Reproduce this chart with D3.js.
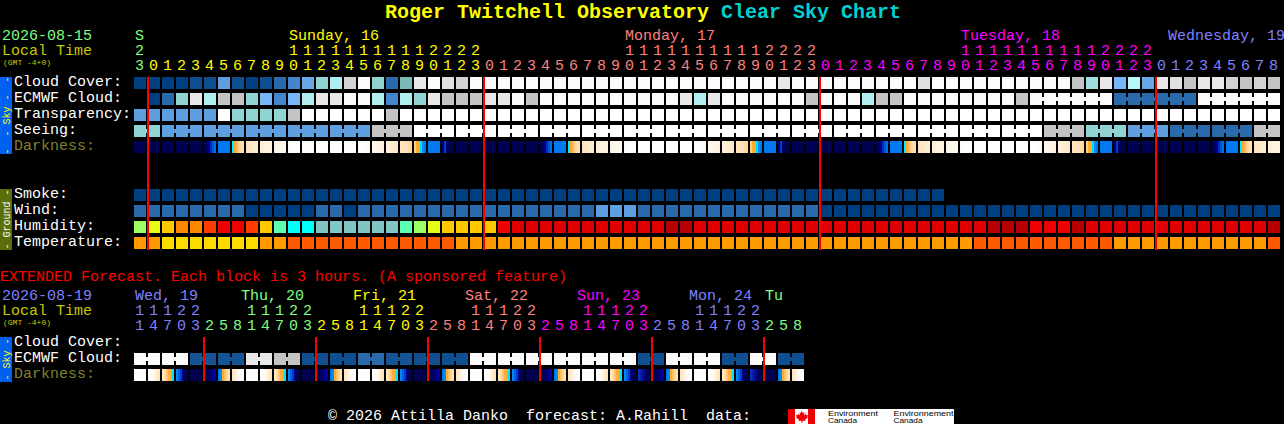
<!DOCTYPE html>
<html><head><meta charset="utf-8">
<style>
html,body{margin:0;padding:0;background:#000;overflow:hidden}
svg{display:block}
text{font-family:"Liberation Mono",monospace;font-size:15px;white-space:pre}
</style>
<script src="https://cdn.jsdelivr.net/npm/d3@7"></script>
</head><body><svg id="c" width="1284" height="424"></svg>
<script>
// ---------- data: one code per hourly / 3-hourly block ----------
const parse = s => s.replace(/ /g,"").split("");
const cloudCover   = parse("aaaabbebab cdpghokgct jklokkkkkk kkkkkkkkkk kkkkkkjkkk kkkkkklkkk kkkkkkkimj fypjlijjoioi");
const ecmwfCloud   = parse("-acgjhiigf dfhjjkkhdh gjiiijjkik kkkkkkkkkj hjkkkkkkik kkhiikkkkk kkkikkkkkk cccccckkkkkk");
const transparency = parse("eeeeeewggg giwwwwwwiw wwwwwwwwww wwwwwwwwww wwwwwwwwww wwwwwwwwww wwwwwwwwww wwwwwwwwwwww");
const seeing       = parse("ggeeeeeeee eeeeeeeiii wwwwwwwwww wwwwwwwwww wwwwwwwwww wwwwwwwwww wwwwwiiigg geeeccccccii");
const darkness     = parse("NNNNNabc12 34wwww5678 dbeNNNNNNa bc1234wwww 5678dbeNNN NNNabc1234 wwww5678db eNNNNNNabc12");
const smoke        = parse("aaaaaaaaaa aaaaaaaaaa aaaaaaaaaa aaaaaaaaaa aaaaaaaaaa aaaaaaaa");
const wind         = parse("ccccccccaa aaaccacccc cccccccccc ccceeecccc ccccccccca aaaaaaaaaa aaaaaaaaaa aaaaaaaaaaaa");
const humidity     = parse("ABCDDEFFEC IJJKKKKKKI ABCCCCFGGG GGGGGGGGHH GGGGGGGGGG GGGGGGGGGG GHHHFFFHGG GGGGGGGGGGGH");
const temperature  = parse("PPQQQQQQQP PRRRRRRRRR RRRPPPPPPP PPPPPPPPPP PPPPPPPPPP PPPPPPPPPP RRRRRRRRRR PPPPPPPPPPPR");
const hours = [23,0,1,2,3,4,5,6,7,8,9,10,11,12,13,14,15,16,17,18,19,20,21,22,23,
  0,1,2,3,4,5,6,7,8,9,10,11,12,13,14,15,16,17,18,19,20,21,22,23,
  0,1,2,3,4,5,6,7,8,9,10,11,12,13,14,15,16,17,18,19,20,21,22,23,
  0,1,2,3,4,5,6,7,8];
const dayOfHour = i => i<1?0 : i<25?1 : i<49?2 : i<73?3 : 4;
const dayLabels = [["S",0],["Sunday, 16",11],["Monday, 17",35],["Tuesday, 18",59],["Wednesday, 19",73.786]];
const midnights = [1,25,49,73];

const extEcmwf    = parse("kkkkssss jjiibbbb ccssbbbb kkkkkkkk kkkkbbkk kkbbkkbb");
const extDarkness = parse("wXYZNVUT wXYZNVUT wXYZNVUT wXYZNVUT wXYZSVUT wXYZSNUT");
const extHours = [11,14,17,20,23, 2,5,8,11,14,17,20,23, 2,5,8,11,14,17,20,23, 2,5,8,11,14,17,20,23,
  2,5,8,11,14,17,20,23, 2,5,8,11,14,17,20,23, 2,5,8];
const extDayOf = i => i<5?4 : i<13?0 : i<21?1 : i<29?2 : i<37?3 : i<45?4 : 0;
const extDayLabels = [["Wed, 19",0,4],["Thu, 20",7.57,0],["Fri, 21",15.57,1],["Sat, 22",23.57,2],["Sun, 23",31.57,3],["Mon, 24",39.57,4],["Tu",45,0]];
const extMidnights = [5,13,21,29,37,45];

// ---------- styles ----------
const palette = {a:"#003f7f",b:"#0f4f8f",s:"#155595",c:"#2a6aaa",d:"#4585cb",e:"#5f9fdf",p:"#68a8e8",f:"#77b7f7",
  t:"#7cbaba",g:"#8fd3d3",m:"#a0dede",h:"#aeeeee",y:"#b8f8f8",i:"#c4c4c4",o:"#d2d2d2",l:"#e0e0e0",j:"#e8e8e8",k:"#fbfbfb",w:"#ffffff",
  A:"#9cff66",B:"#e6ff14",C:"#ffc800",D:"#ff8800",E:"#ff3c00",F:"#ec0000",G:"#e00000",H:"#b80000",I:"#5cffb0",J:"#00ffff",K:"#80c4c4",
  P:"#ff9a00",Q:"#ffdc00",R:"#ff5a00"};
const keys = Object.keys(palette);
const colour = d3.scaleOrdinal(keys, keys.map(k=>palette[k]));
const strips = {
  N:["#000050"],w:["#ffffff"],
  a:["#000050","#000060","#000090","#0030b8","#0050d8","#0070e8"],
  b:["#0078f0"],
  c:["#00f0ff","#ffa830","#ffb858","#ffd090","#ffdca8","#ffe0b0"],
  1:["#ffe4bc","#ffe6c0","#ffe8c6","#ffeacc","#ffecd0","#ffeed4"],
  2:["#ffefd6","#fff0d8","#fff1dc","#fff2de","#fff3e0","#fff4e4"],
  3:["#fff5e6","#fff6e8","#fff7ec","#fff8ee","#fff9f0","#fffaf4"],
  4:["#fffbf6","#fffcf8","#fffdfa","#fffefc","#fffefe","#ffffff"],
  5:["#ffffff","#fffefc","#fffdfa","#fffcf8","#fffbf6","#fffaf4"],
  6:["#fff9f0","#fff8ee","#fff6ea","#fff5e6","#fff4e4","#fff2e0"],
  7:["#fff1dc","#fff0d8","#ffeed4","#ffecd0","#ffeacc","#ffe8c6"],
  8:["#ffe6c0","#ffe4bc","#ffe2b8","#ffdfb0","#ffdba8","#ffd8a0"],
  d:["#ffd080","#ffb030","#ffa820","#00e0ff","#0090ff","#0078f0"],
  e:["#000070","#0040c0","#000070","#000050","#000050","#000050"],
  X:["#ffffff","#ffffff","#fffaf2","#fff2e0","#ffeacc","#ffe4c0"],
  Y:["#ffecc8","#ffdca8","#ffc870","#ffb040","#ffa830","#00e0ff"],
  Z:["#0088f8","#0060e0","#0040c0","#000090","#000060","#000050"],
  V:["#000050","#000050","#000060","#000070","#000090","#0000a0"],
  U:["#0078f0","#0090f0","#ffa830","#ffc060","#ffd490","#ffe0b0"],
  T:["#ffe4c0","#ffecd0","#fff2e0","#fff8ee","#fffcf8","#ffffff"],
  S:["#0030c0","#0020b0","#000f90","#000080","#000060","#000050"]
};
const dayColour = d3.scaleOrdinal([0,1,2,3,4],["#80ff80","#ffff00","#ff8080","#ff00ff","#8080ff"]);

// ---------- scales ----------
const x  = d3.scaleLinear().domain([0,82]).range([134,1282]);
const xe = d3.scaleLinear().domain([0,48]).range([134,806]);
const svg = d3.select("#c");
const CW=12, CH=12;

function text(s,px,py,fill,opts={}){
  const t=svg.append("text").attr("x",px).attr("y",py).attr("fill",fill).text(s);
  if(opts.size) t.style("font-size",opts.size+"px");
  if(opts.weight) t.style("font-weight",opts.weight);
  if(opts.family) t.style("font-family",opts.family);
  if(opts.len) t.attr("textLength",opts.len).attr("lengthAdjust","spacingAndGlyphs");
  return t;
}
function row(codes,scale,yy,link){
  const g=svg.append("g").attr("shape-rendering","crispEdges");
  const present=codes.map((c,i)=>({c,i})).filter(d=>d.c!=="-");
  g.selectAll("rect.cell").data(present).join("rect").attr("class","cell")
    .attr("x",d=>scale(d.i)).attr("y",yy).attr("width",CW).attr("height",CH).attr("fill",d=>colour(d.c));
  if(link){
    const nubs=present.filter(d=>d.i+1<codes.length && codes[d.i+1]===d.c && link(d.i));
    g.selectAll("rect.nub").data(nubs).join("rect").attr("class","nub")
      .attr("x",d=>scale(d.i)+CW).attr("y",yy+4).attr("width",2).attr("height",4).attr("fill",d=>colour(d.c));
  }
}
function stripRow(codes,scale,yy){
  const g=svg.append("g").attr("shape-rendering","crispEdges");
  const cells=g.selectAll("g").data(codes).join("g").attr("transform",(d,i)=>`translate(${scale(i)},${yy})`);
  cells.selectAll("rect").data(d=>strips[d]).join("rect")
    .attr("x",(d,i,n)=>i*CW/n.length).attr("y",0).attr("width",(d,i,n)=>CW/n.length).attr("height",CH).attr("fill",d=>d);
}
function vbar(label,y0,y1,fill,txt){
  svg.append("rect").attr("x",0).attr("y",y0).attr("width",12).attr("height",y1-y0).attr("fill",fill).attr("shape-rendering","crispEdges");
  svg.append("text").attr("transform",`translate(9.5,${(y0+y1)/2}) rotate(-90)`).attr("text-anchor","middle")
    .attr("fill",txt).style("font-size","10px").text(label);
}
function vlines(idx,scale,y0,y1){
  svg.append("g").attr("shape-rendering","crispEdges").selectAll("rect").data(idx).join("rect")
    .attr("x",d=>scale(d)-1).attr("y",y0).attr("width",2).attr("height",y1-y0).attr("fill","#ff0000");
}

// ---------- title ----------
text("Roger Twitchell Observatory",385,18,"#ffff00",{size:20,weight:"bold"});
text("Clear Sky Chart",721,18,"#00d0d0",{size:20,weight:"bold"});

// ---------- header ----------
text("2026-08-15",2,40,"#80ff80");
text("Local Time",2,55,"#c8c800");
text("(GMT -4+0)",3,65,"#c8c800",{size:8});
dayLabels.forEach((d,k)=>text(d[0],x(d[1])+1,40,dayColour(k)));
hours.forEach((h,i)=>{
  const col=dayColour(dayOfHour(i));
  if(h>=10) text(String(Math.floor(h/10)),x(i)+1,55,col);
  text(String(h%10),x(i)+1,70,col);
});

// ---------- side bars and labels ----------
vbar("-  - Sky -  -",77,154,"#0060f0","#ffff00");
vbar("- Ground -",189,250,"#5a6e0a","#ffffff");
[["Cloud Cover:",86],["ECMWF Cloud:",102],["Transparency:",118],["Seeing:",134]].forEach(d=>text(d[0],14,d[1],"#ffffff"));
text("Darkness:",14,150,"#808030");
[["Smoke:",198],["Wind:",214],["Humidity:",230],["Temperature:",246]].forEach(d=>text(d[0],14,d[1],"#ffffff"));

// ---------- main rows ----------
row(cloudCover,x,77);
row(ecmwfCloud,x,93,i=>i>=64);
row(transparency,x,109);
row(seeing,x,125,i=>i%3!==1);
stripRow(darkness,x,141);
row(smoke,x,189);
row(wind,x,205);
row(humidity,x,221);
row(temperature,x,237);
vlines(midnights,x,77,250);

// ---------- extended ----------
text("EXTENDED Forecast. Each block is 3 hours. (A sponsored feature)",0,281,"#ff0000");
text("2026-08-19",2,300,"#8080ff");
text("Local Time",2,315,"#c8c800");
text("(GMT -4+0)",3,325,"#c8c800",{size:8});
extDayLabels.forEach(d=>text(d[0],xe(d[1])+1,300,dayColour(d[2])));
extHours.forEach((h,i)=>{
  const col=dayColour(extDayOf(i));
  if(h>=10) text(String(Math.floor(h/10)),xe(i)+1,315,col);
  text(String(h%10),xe(i)+1,330,col);
});
vbar("- Sky -",337,382,"#0060f0","#ffff00");
text("Cloud Cover:",14,346,"#ffffff");
text("ECMWF Cloud:",14,362,"#ffffff");
text("Darkness:",14,378,"#808030");
row(extEcmwf,xe,353,i=>i%2===0);
stripRow(extDarkness,xe,369);
vlines(extMidnights,xe,337,381);

// ---------- footer ----------
text("© 2026 Attilla Danko  forecast: A.Rahill  data:",328,420,"#ffffff");
const logo=svg.append("g").attr("shape-rendering","crispEdges");
logo.append("rect").attr("x",788).attr("y",409).attr("width",166).attr("height",15).attr("fill","#ffffff");
logo.append("rect").attr("x",788).attr("y",409).attr("width",7).attr("height",15).attr("fill","#f00000");
logo.append("rect").attr("x",808).attr("y",409).attr("width",7).attr("height",15).attr("fill","#f00000");
svg.append("path").attr("fill","#f00000")
  .attr("d","M801.5 410.5l1.4 2.5 1.6-.8-.6 3 2-1.4.6 1.4 1.6-.2-.8 2.2 .6.6-2.8 1.8.3 1.4-2.9-.3v2.3h-1v-2.3l-2.9.3.3-1.4-2.8-1.8.6-.6-.8-2.2 1.6.2.6-1.4 2 1.4-.6-3 1.6.8z");
const sans='"Liberation Sans",sans-serif';
text("Environment",828,416,"#000",{size:8,family:sans,len:50});
text("Canada",828,423,"#000",{size:8,family:sans,len:29});
text("Environnement",893.5,416,"#000",{size:8,family:sans,len:60});
text("Canada",893.5,423,"#000",{size:8,family:sans,len:29});
</script></body></html>
